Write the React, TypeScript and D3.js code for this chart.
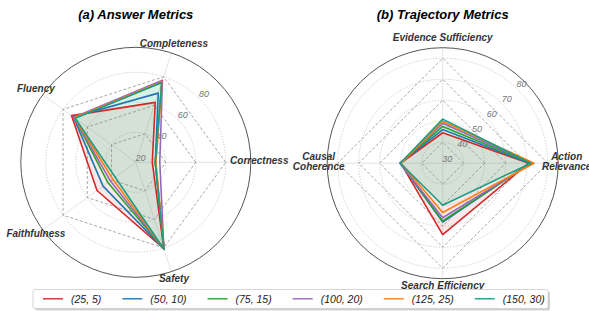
import React from "react";
import * as d3 from "d3";

// ---------- Data ----------
const seriesLabels = ["(25, 5)", "(50, 10)", "(75, 15)", "(100, 20)", "(125, 25)", "(150, 30)"];
const seriesColors = ["#d62728", "#1f77b4", "#2ca02c", "#9467bd", "#ff7f0e", "#1a9e83"];

// Answer metrics (angles 0°,72°,144°,216°,288° counter-clockwise from east)
const answerCategories = ["Correctness", "Completeness", "Fluency", "Faithfulness", "Safety"];
const answerValues = [
  [31, 62, 73, 52, 80.5],
  [33, 68.5, 71.5, 47, 80.8],
  [33, 76, 70.5, 43, 81],
  [36, 77.5, 71, 41, 80.6],
  [33.5, 76.5, 70.5, 39, 80.8],
  [33, 76, 70, 37, 81],
];
const answerTicks = [20, 40, 60, 80];
const answerDomain = [20, 96.7];

// Trajectory metrics (angles 0°,90°,180°,270°)
const trajCategories = ["Action\nRelevance", "Evidence Sufficiency", "Causal\nCoherence", "Search Efficiency"];
const trajValues = [
  [71, 44.5, 50, 64],
  [71.5, 46, 50.2, 58],
  [72, 47.5, 50.1, 57.5],
  [72.5, 49, 50.4, 56],
  [73.5, 50, 49.8, 53.5],
  [72, 51, 50.2, 50],
];
const trajTicks = [30, 40, 50, 60, 70, 80];
const trajDomain = [30, 85];

const FONT = "'Liberation Sans', Arial, sans-serif";

type RadarProps = {
  cx: number;
  cy: number;
  R: number;
  title: string;
  categories: string[];
  values: number[][];
  ticks: number[];
  domain: number[];
};

function Radar({ cx, cy, R, title, categories, values, ticks, domain }: RadarProps) {
  const r = d3.scaleLinear().domain(domain).range([0, R]);
  const n = categories.length;
  const ang = (i: number) => (i * 2 * Math.PI) / n;
  const pt = (i: number, rad: number): [number, number] => [
    cx + rad * Math.cos(ang(i)),
    cy - rad * Math.sin(ang(i)),
  ];
  const line = d3.line<[number, number]>().curve(d3.curveLinearClosed);
  const gridTicks = ticks.filter((t) => r(t) > 1);
  const labelAngle = Math.PI / 4;
  const labelR = R + 8.5;

  return (
    <g>
      <text
        x={cx}
        y={19}
        textAnchor="middle"
        fontFamily={FONT}
        fontSize={13}
        fontWeight="bold"
        fontStyle="italic"
        fill="#000"
      >
        {title}
      </text>
      {/* spokes */}
      {categories.map((_, i) => {
        const [x, y] = pt(i, R);
        return <line key={"s" + i} x1={cx} y1={cy} x2={x} y2={y} stroke="#dcdcdc" strokeWidth={0.8} />;
      })}
      {/* dotted circles */}
      {gridTicks.map((t) => (
        <circle
          key={"c" + t}
          cx={cx}
          cy={cy}
          r={r(t)}
          fill="none"
          stroke="#bdbdbd"
          strokeWidth={0.8}
          strokeDasharray="1.2,1.6"
        />
      ))}
      {/* dashed polygons */}
      {gridTicks.map((t) => (
        <path
          key={"p" + t}
          d={line(categories.map((_, i) => pt(i, r(t)))) || ""}
          fill="none"
          stroke="#929292"
          strokeWidth={0.8}
          strokeDasharray="3,2"
        />
      ))}
      {/* outer circle */}
      <circle cx={cx} cy={cy} r={R} fill="none" stroke="#555" strokeWidth={1} />
      {/* fills */}
      <path
        d={line(values[0].map((v, i) => pt(i, r(v)))) || ""}
        fill="rgba(214,39,40,0.1)"
        stroke="none"
      />
      <path
        d={line(values[values.length - 1].map((v, i) => pt(i, r(v)))) || ""}
        fill="rgba(66,190,140,0.2)"
        stroke="none"
      />
      {/* series lines */}
      {values.map((vals, s) => (
        <path
          key={"l" + s}
          d={line(vals.map((v, i) => pt(i, r(v)))) || ""}
          fill="none"
          stroke={seriesColors[s]}
          strokeWidth={1.6}
          strokeLinejoin="round"
        />
      ))}
      {/* tick labels */}
      {ticks.map((t) => (
        <text
          key={"t" + t}
          x={cx + (r(t) + 6.5) * Math.cos(labelAngle)}
          y={cy - (r(t) + 6.5) * Math.sin(labelAngle)}
          textAnchor="middle"
          dominantBaseline="central"
          fontFamily={FONT}
          fontSize={9}
          fontStyle="italic"
          fill="#777"
        >
          {t}
        </text>
      ))}
      {/* category labels */}
      {categories.map((c, i) => {
        const [x, y] = pt(i, labelR);
        const lines = c.split("\n");
        return (
          <text
            key={"k" + i}
            x={x}
            y={y - 2}
            textAnchor="middle"
            dominantBaseline="central"
            fontFamily={FONT}
            fontSize={10}
            fontWeight="bold"
            fontStyle="italic"
            fill="#333"
          >
            {lines.map((ln, j) => (
              <tspan key={j} x={x} dy={j === 0 ? -((lines.length - 1) * 10.5) / 2 : 10.5}>
                {ln}
              </tspan>
            ))}
          </text>
        );
      })}
    </g>
  );
}

const charW: Record<string, number> = { "(": 0.333, ")": 0.333, ",": 0.278, " ": 0.278 };
const textWidth = (s: string, size: number) =>
  s.split("").reduce((a, ch) => a + (charW[ch] ?? 0.556), 0) * size;

function Legend() {
  const fs = 10.5;
  let x = 43;
  const items = seriesLabels.map((lab, i) => {
    const item = { lab, i, x };
    x += 28 + textWidth(lab, fs) + 21;
    return item;
  });
  const y = 298.8;
  return (
    <g>
      <rect x={35} y={291.5} width={515} height={19} rx={2} fill="rgba(0,0,0,0.18)" />
      <rect x={33} y={289.5} width={515} height={19} rx={2} fill="#fff" stroke="#cccccc" strokeWidth={0.8} />
      {items.map((it) => (
        <g key={it.i}>
          <line x1={it.x} x2={it.x + 20} y1={y} y2={y} stroke={seriesColors[it.i]} strokeWidth={1.4} />
          <text
            x={it.x + 28}
            y={y}
            dominantBaseline="central"
            fontFamily={FONT}
            fontSize={fs}
            fontStyle="italic"
            fill="#222"
          >
            {it.lab}
          </text>
        </g>
      ))}
    </g>
  );
}

export default function App() {
  return (
    <svg
      width={589}
      height={311}
      style={{ position: "absolute", left: 0, top: 0, background: "#fff" }}
    >
      <rect width={589} height={311} fill="#fff" />
      <Radar
        cx={135.8}
        cy={162.3}
        R={115}
        title="(a) Answer Metrics"
        categories={answerCategories}
        values={answerValues}
        ticks={answerTicks}
        domain={answerDomain}
      />
      <Radar
        cx={442.7}
        cy={163.2}
        R={115.5}
        title="(b) Trajectory Metrics"
        categories={trajCategories}
        values={trajValues}
        ticks={trajTicks}
        domain={trajDomain}
      />
      <Legend />
    </svg>
  );
}
